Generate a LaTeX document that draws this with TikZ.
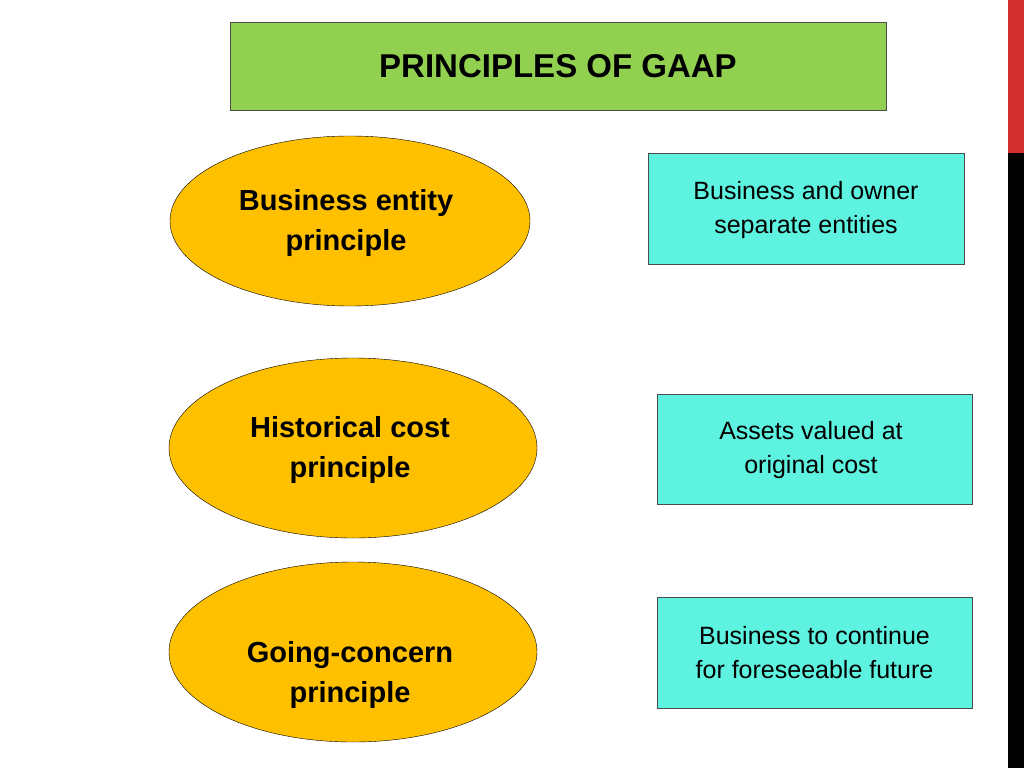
\documentclass[tikz,border=0pt]{standalone}
\usepackage{fontspec}
\setmainfont{Liberation Sans}
\usetikzlibrary{shapes.geometric}
\definecolor{gr}{HTML}{92D050}
\definecolor{orn}{HTML}{FFC000}
\definecolor{cy}{HTML}{5EF2E0}
\definecolor{rd}{HTML}{D32F2F}
\begin{document}
\begin{tikzpicture}[x=1pt,y=-1pt,
  ell/.style={ellipse,draw=black,fill=orn,inner sep=0,align=center,font=\fontsize{29}{40}\selectfont\bfseries},
  bx/.style={draw=black!70,fill=cy,inner sep=0,align=center,font=\fontsize{25}{34}\selectfont},
  lbl/.style={align=center}]
\useasboundingbox (0,0) rectangle (1024,768);
\fill[white] (0,0) rectangle (1024,768);
\fill[rd] (1008,0) rectangle (1024,153);
\fill[black] (1008,153) rectangle (1024,768);
\node[draw=black!70,fill=gr,minimum width=656,minimum height=88,font=\fontsize{33}{40}\selectfont\bfseries] (t) at (558,66) {PRINCIPLES OF GAAP};
\node[ell,minimum width=360,minimum height=170] (e1) at (350,221) {};
\node[lbl,font=\fontsize{29}{40}\selectfont\bfseries] (l1) at (346,223) {Business entity\\principle};
\node[ell,minimum width=368,minimum height=180] (e2) at (353,448) {};
\node[lbl,font=\fontsize{29}{40}\selectfont\bfseries] (l2) at (350,450) {Historical cost\\principle};
\node[ell,minimum width=368,minimum height=180] (e3) at (353,652) {};
\node[lbl,font=\fontsize{29}{40}\selectfont\bfseries] (l3) at (350,675) {Going-concern\\principle};
\node[bx,minimum width=316,minimum height=111] (b1) at (806,208.5) {};
\node[lbl,font=\fontsize{25}{34}\selectfont] (t1) at (806,210) {Business and owner\\separate entities};
\node[bx,minimum width=315,minimum height=110] (b2) at (814.5,449) {};
\node[lbl,font=\fontsize{25}{34}\selectfont] (t2) at (811,450) {Assets valued at\\original cost};
\node[bx,minimum width=315,minimum height=111] (b3) at (814.5,652.5) {};
\node[lbl,font=\fontsize{25}{34}\selectfont] (t3) at (814.5,653) {Business to continue\\for foreseeable future};
\end{tikzpicture}
\end{document}
